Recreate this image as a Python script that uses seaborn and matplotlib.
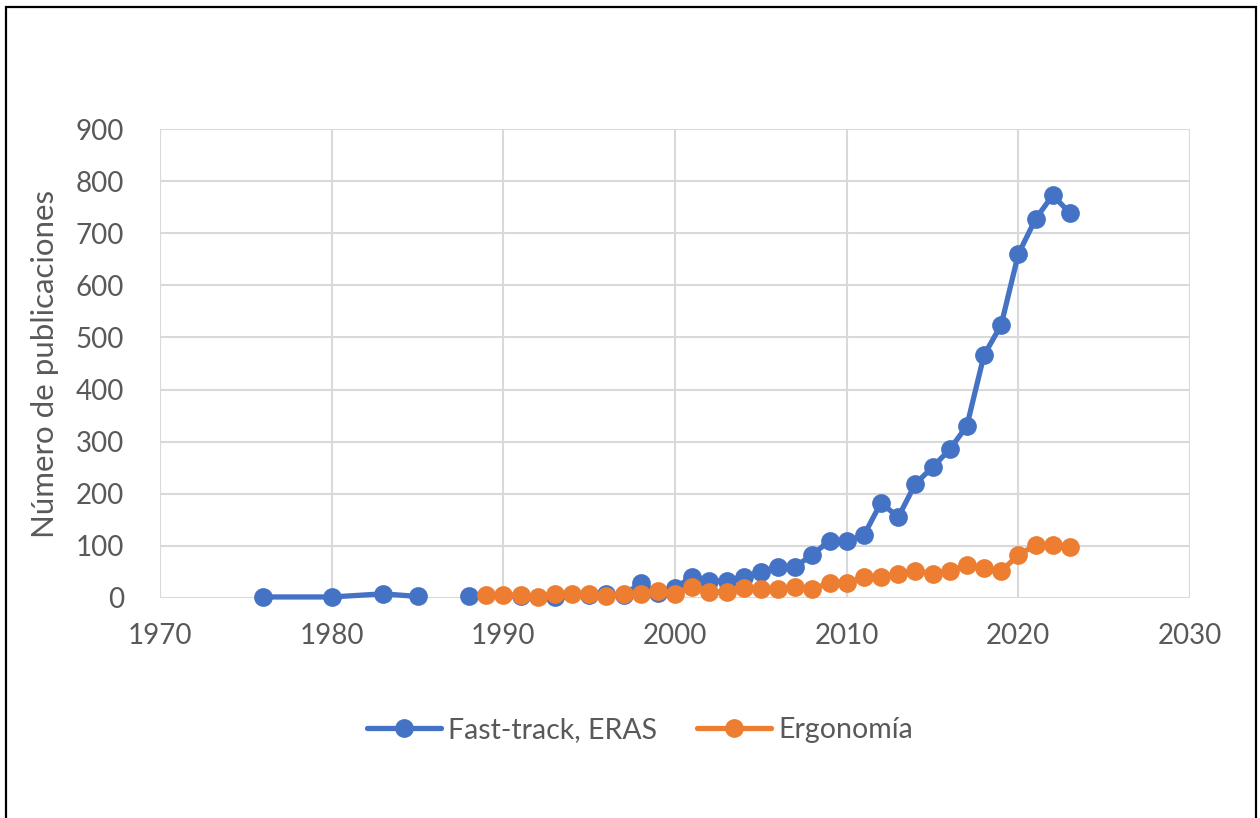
import numpy as np
import pandas as pd
import matplotlib
matplotlib.use("Agg")
import matplotlib.pyplot as plt
from matplotlib.lines import Line2D
from matplotlib.patches import Rectangle
import seaborn as sns

# Publicaciones por año
anios_eras = [1976, 1980, 1983, 1985,
              1988, 1991, 1993, 1995, 1996, 1997, 1998, 1999, 2000,
              2001, 2002, 2003, 2004, 2005, 2006, 2007, 2008, 2009, 2010,
              2011, 2012, 2013, 2014, 2015, 2016, 2017, 2018, 2019, 2020,
              2021, 2022, 2023]
pub_eras = [2, 2, 8, 3,
            3, 4, 1, 5, 8, 6, 28, 10, 20,
            40, 33, 33, 40, 50, 60, 60, 83, 110, 110,
            120, 183, 155, 219, 251, 285, 330, 466, 524, 660,
            727, 773, 739]
# tramo de la serie (sin datos entre 1986 y 1987)
tramo_eras = [1] * 4 + [2] * 32

anios_ergo = list(range(1989, 2024))
pub_ergo = [5, 6, 6, 2, 8, 8, 8, 3, 8, 8, 14, 8,
            22, 12, 12, 19, 17, 17, 22, 17, 29, 29,
            40, 40, 47, 52, 47, 52, 63, 57, 52, 82,
            102, 102, 97]

serie_eras = "Fast-track, ERAS"
serie_ergo = "Ergonomía"
colores = {serie_eras: "#4472C4", serie_ergo: "#ED7D31"}

df = pd.concat([
    pd.DataFrame({"anio": anios_eras, "n": pub_eras, "serie": serie_eras, "tramo": tramo_eras}),
    pd.DataFrame({"anio": anios_ergo, "n": pub_ergo, "serie": serie_ergo, "tramo": 1}),
], ignore_index=True)

sns.set_theme(style="white")
plt.rcParams["font.family"] = ["Lato", "DejaVu Sans"]
gris_texto = "#595959"

fig = plt.figure(figsize=(12.6, 8.18), dpi=100)
ax = fig.add_axes([160 / 1260, 1 - 598 / 818, 1030 / 1260, 469 / 818])

sns.lineplot(data=df, x="anio", y="n", hue="serie", units="tramo", estimator=None,
             hue_order=[serie_eras, serie_ergo], palette=colores,
             marker="o", markersize=13.5, markeredgewidth=0, linewidth=3.8,
             legend=False, ax=ax, clip_on=False)

ax.set_xlim(1970, 2030)
ax.set_ylim(0, 900)
ax.set_xticks(np.arange(1970, 2031, 10))
ax.set_yticks(np.arange(0, 901, 100))
ax.grid(True, color="#d9d9d9", linewidth=1.5)
ax.set_axisbelow(True)
for s in ax.spines.values():
    s.set_visible(False)
ax.tick_params(axis="both", length=0, labelsize=20, labelcolor=gris_texto)
ax.tick_params(axis="x", pad=18)
ax.tick_params(axis="y", pad=26)
ax.set_xlabel("")
ax.set_ylabel("Número de publicaciones", fontsize=22.5, color=gris_texto, labelpad=12)

handles = [Line2D([], [], color=colores[s], linewidth=3.8, marker="o", markersize=13.5,
                  markeredgewidth=0) for s in (serie_eras, serie_ergo)]
fig.legend(handles, [serie_eras, serie_ergo], loc="center",
           bbox_to_anchor=(0.5 + 10 / 1260, 1 - 730 / 818),
           ncol=2, frameon=False, fontsize=20.5, labelcolor=gris_texto,
           handlelength=2.6, handletextpad=0.25, columnspacing=1.4)

# marco del gráfico
fig.patches.append(Rectangle((6 / 1260, -0.05), 1250 / 1260, 1.05 - 7 / 818,
                             transform=fig.transFigure, fill=False,
                             edgecolor="black", linewidth=1.6))

fig.savefig("out.png", dpi=100, facecolor="white")
